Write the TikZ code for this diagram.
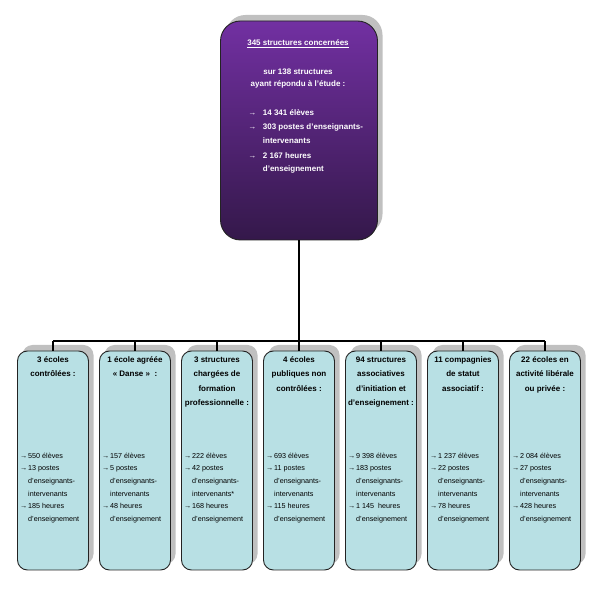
\documentclass[tikz,border=0pt]{standalone}
\usepackage{fontspec}
\setmainfont{Liberation Sans}
\usetikzlibrary{shadows}
\definecolor{topc}{RGB}{114,48,162}
\definecolor{botc}{RGB}{52,24,74}
\definecolor{cyanbox}{RGB}{184,224,228}
\definecolor{shadowg}{RGB}{192,192,192}
\definecolor{edgec}{RGB}{35,35,35}
\newcommand\arr[1]{\llap{\makebox[#1][l]{→}}}
\newcommand\childtext[4]{% #1 index, #2 center x, #3 titles, #4 bullets
  \foreach \l [count=\k from 0] in {#3}
    \node[ttl] (t#1-\k) at ({#2},{360+14.3*\k}) {\l};
  \foreach \l [count=\k from 0] in {#4}
    \node[bl] (b#1-\k) at ({#2-25},{455.7+12.6*\k}) {\l};
}
\begin{document}
\begin{tikzpicture}[x=1pt,y=-1pt,
  shad/.style={general shadow={fill=shadowg, shadow xshift=5pt, shadow yshift=6pt}},
  topbox/.style={shad, draw=edgec, line width=0.9pt, rounded corners=20pt,
    top color=topc, bottom color=botc, minimum width=157pt, minimum height=219pt, inner sep=0pt},
  childbox/.style={shad, draw=edgec, line width=0.9pt, rounded corners=10pt,
    fill=cyanbox, minimum width=71pt, minimum height=219pt, inner sep=0pt},
  wtxt/.style={text=white, font=\bfseries\fontsize{8}{9}\selectfont, inner sep=0pt, anchor=mid},
  wbl/.style={wtxt, anchor=mid west},
  ttl/.style={font=\bfseries\fontsize{8}{9}\selectfont, inner sep=0pt, anchor=mid},
  bl/.style={font=\fontsize{7.2}{8}\selectfont, inner sep=0pt, anchor=mid west},
  conn/.style={line width=1.3pt, black}]
\useasboundingbox (0,0) rectangle (595,593);

% top box
\node[topbox] (top) at (299,130.5) {};
\node[wtxt] (h1) at (298,43.3) {\underline{345 structures concernées}};
\node[wtxt] (h2) at (298,71.7) {sur 138 structures};
\node[wtxt] (h3) at (298,84) {ayant répondu à l’étude :};
\node[wbl] (h4) at (262.7,112.7) {\arr{14.5pt}14 341 élèves};
\node[wbl] (h5) at (262.7,126.7) {\arr{14.5pt}303 postes d’enseignants-};
\node[wbl] (h6) at (262.7,141) {intervenants};
\node[wbl] (h7) at (262.7,155.7) {\arr{14.5pt}2 167 heures};
\node[wbl] (h8) at (262.7,169) {d’enseignement};

% child boxes
\foreach \i in {1,...,7}
  \node[childbox] (c\i) at ({53+82*(\i-1)},460.5) {};

\coordinate (bus) at (0,341);
\draw[conn] (top.south) -- (top.south |- bus);
\draw[conn] (c1.north |- bus) -- (c7.north |- bus);
\foreach \i in {1,...,7}
  \draw[conn] (c\i.north |- bus) -- (c\i.north);

\childtext{1}{53}{3 écoles,contrôlées :}
  {{\arr{8pt}550 élèves},{\arr{8pt}13 postes},d’enseignants-,intervenants,{\arr{8pt}185 heures},d’enseignement}
\childtext{2}{135}{1 école agréée,« Danse »~ :}
  {{\arr{8pt}157 élèves},{\arr{8pt}5 postes},d’enseignants-,intervenants,{\arr{8pt}48 heures},d’enseignement}
\childtext{3}{217}{3 structures,chargées de,formation,professionnelle :}
  {{\arr{8pt}222 élèves},{\arr{8pt}42 postes},d’enseignants-,intervenants*,{\arr{8pt}168 heures},d’enseignement}
\childtext{4}{299}{4 écoles,publiques non,contrôlées :}
  {{\arr{8pt}693 élèves},{\arr{8pt}11 postes},d’enseignants-,intervenants,{\arr{8pt}115 heures},d’enseignement}
\childtext{5}{381}{94 structures,associatives,d’initiation et,d’enseignement :}
  {{\arr{8pt}9 398 élèves},{\arr{8pt}183 postes},d’enseignants-,intervenants,{\arr{8pt}1 145~ heures},d’enseignement}
\childtext{6}{463}{11 compagnies,de statut,associatif :}
  {{\arr{8pt}1 237 élèves},{\arr{8pt}22 postes},d’enseignants-,intervenants,{\arr{8pt}78 heures},d’enseignement}
\childtext{7}{545}{22 écoles en,activité libérale,ou privée :}
  {{\arr{8pt}2 084 élèves},{\arr{8pt}27 postes},d’enseignants-,intervenants,{\arr{8pt}428 heures},d’enseignement}
\end{tikzpicture}
\end{document}
